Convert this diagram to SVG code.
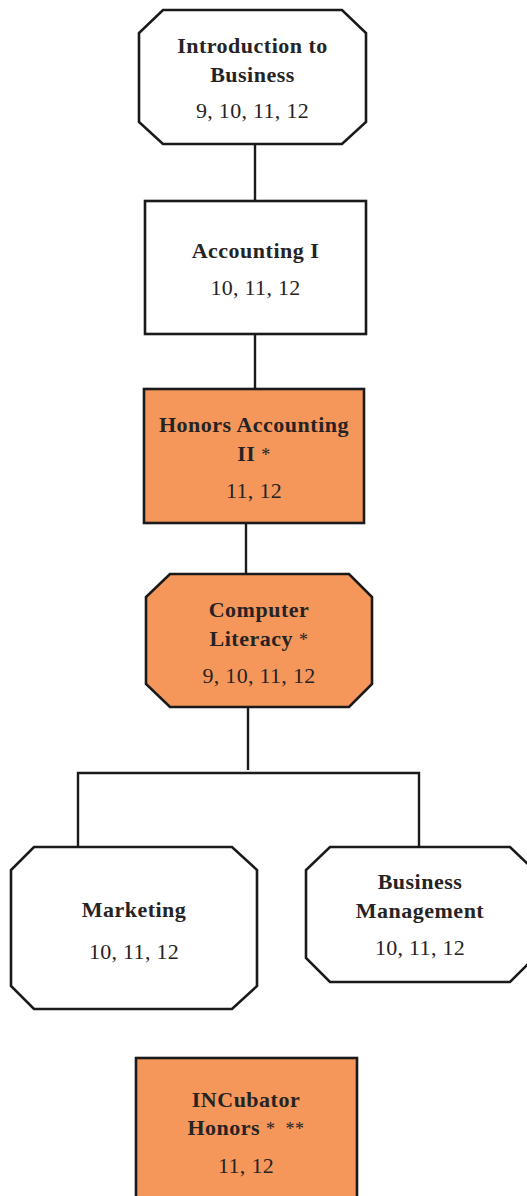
<svg xmlns="http://www.w3.org/2000/svg" width="527" height="1196" viewBox="0 0 527 1196">
<style>
.box{stroke:#1a1a1a;stroke-width:2.6;stroke-linejoin:miter}
.w{fill:#ffffff}
.o{fill:#F5975A}
.t{font-family:"Liberation Serif","Times New Roman",serif;font-weight:bold;font-size:22px;fill:#262324;text-anchor:middle;letter-spacing:0.5px;white-space:pre}
.n{font-family:"Liberation Serif","Times New Roman",serif;font-size:22px;fill:#262324;text-anchor:middle;letter-spacing:0.3px}
.s{font-weight:normal;font-size:18px}
.c{stroke:#1a1a1a;stroke-width:2.4;fill:none}
</style>
<rect width="527" height="1196" fill="#ffffff"/>
<g id="connectors">
<line class="c" x1="255" y1="144" x2="255" y2="201"/>
<line class="c" x1="255" y1="334" x2="255" y2="389"/>
<line class="c" x1="246" y1="523" x2="246" y2="575"/>
<line class="c" x1="248" y1="707" x2="248" y2="770"/>
<polyline class="c" points="78,846 78,773 419,773 419,846"/>
</g>
<g id="intro">
<polygon class="box w" points="163,10 342,10 366,33 366,122 342,144 163,144 139,122 139,33"/>
<text class="t" x="252.5" y="53">Introduction to</text>
<text class="t" x="252.5" y="82">Business</text>
<text class="n" x="252.5" y="118">9, 10, 11, 12</text>
</g>
<g id="accounting1">
<rect class="box w" x="145" y="201" width="221" height="133"/>
<text class="t" x="255.5" y="258">Accounting I</text>
<text class="n" x="255.5" y="295">10, 11, 12</text>
</g>
<g id="honors-accounting2">
<rect class="box o" x="144" y="389" width="220" height="134"/>
<text class="t" x="254" y="432">Honors Accounting</text>
<text class="t" x="254" y="461">II <tspan class="s">*</tspan></text>
<text class="n" x="254" y="498">11, 12</text>
</g>
<g id="computer-literacy">
<polygon class="box o" points="170,574 349,574 372,597 372,684 349,707 170,707 146,684 146,597"/>
<text class="t" x="259" y="617">Computer</text>
<text class="t" x="259" y="646">Literacy <tspan class="s">*</tspan></text>
<text class="n" x="259" y="683">9, 10, 11, 12</text>
</g>
<g id="marketing">
<polygon class="box w" points="34,847 232,847 257,870 257,986 232,1009 34,1009 11,986 11,870"/>
<text class="t" x="134" y="917">Marketing</text>
<text class="n" x="134" y="959">10, 11, 12</text>
</g>
<g id="business-management">
<polygon class="box w" points="330,847 510,847 534,870 534,958 510,982 330,982 306,958 306,870"/>
<text class="t" x="420" y="889">Business</text>
<text class="t" x="420" y="918">Management</text>
<text class="n" x="420" y="955">10, 11, 12</text>
</g>
<g id="incubator">
<rect class="box o" x="136" y="1058" width="221" height="150"/>
<text class="t" x="246" y="1107">INCubator</text>
<text class="t" x="246" y="1135">Honors <tspan class="s">*  **</tspan></text>
<text class="n" x="246" y="1173">11, 12</text>
</g>
</svg>
